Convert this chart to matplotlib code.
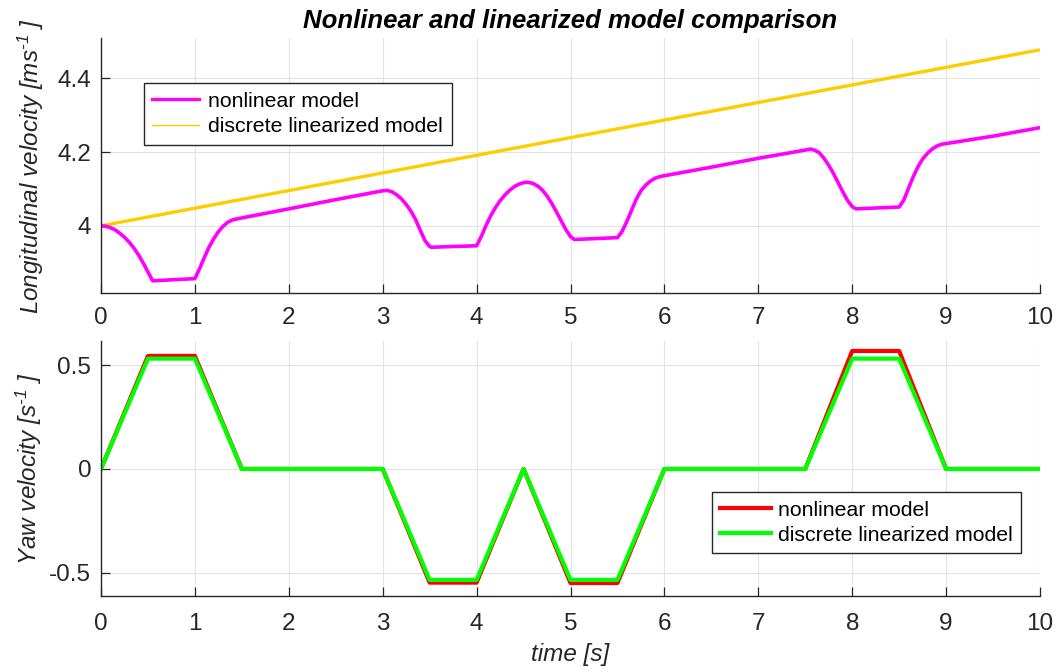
import matplotlib
matplotlib.use("Agg")
import matplotlib.pyplot as plt
from matplotlib.lines import Line2D

plt.rcParams['font.family'] = ['Liberation Sans', 'DejaVu Sans']
plt.rcParams['mathtext.fontset'] = 'custom'
plt.rcParams['mathtext.rm'] = 'Liberation Sans:italic'
plt.rcParams['mathtext.it'] = 'Liberation Sans:italic'
plt.rcParams['mathtext.default'] = 'it'

# ---------------- data ----------------
# Longitudinal velocity, nonlinear model
t_vx = [0.0, 0.05, 0.1, 0.15, 0.2, 0.25, 0.3, 0.35, 0.4, 0.45, 0.5, 0.55,
        1.0, 1.05, 1.1, 1.15, 1.2, 1.25, 1.3, 1.35, 1.4, 1.45,
        2.0, 2.5, 3.0, 3.05, 3.1, 3.15, 3.2, 3.25, 3.3, 3.35, 3.4, 3.45, 3.5, 3.52,
        4.0, 4.05, 4.1, 4.15, 4.2, 4.25, 4.3, 4.35, 4.4, 4.45, 4.5, 4.55, 4.6, 4.65,
        4.7, 4.75, 4.8, 4.85, 4.9, 4.95, 5.0, 5.04,
        5.5, 5.55, 5.6, 5.65, 5.7, 5.75, 5.8, 5.85, 5.9, 5.96,
        6.5, 7.0, 7.56, 7.6, 7.65, 7.7, 7.75, 7.8, 7.85, 7.9, 7.95, 8.0, 8.04,
        8.5, 8.55, 8.6, 8.65, 8.7, 8.75, 8.8, 8.85, 8.9, 8.95, 9.5, 10.0]
vx_nonlinear = [4.000, 3.999, 3.995, 3.989, 3.980, 3.969, 3.956, 3.940, 3.921, 3.899, 3.875, 3.851,
                3.857, 3.884, 3.914, 3.942, 3.965, 3.984, 3.999, 4.010, 4.016, 4.019,
                4.046, 4.071, 4.095, 4.096, 4.092, 4.084, 4.073, 4.058, 4.040, 4.017, 3.988,
                3.960, 3.944, 3.942,
                3.946, 3.971, 4.001, 4.027, 4.049, 4.068, 4.083, 4.096, 4.106, 4.113, 4.117,
                4.118, 4.115, 4.108, 4.097, 4.081, 4.061, 4.038, 4.014, 3.990, 3.971, 3.963,
                3.968, 3.985, 4.012, 4.042, 4.072, 4.095, 4.110, 4.121, 4.129, 4.134,
                4.159, 4.183, 4.208, 4.205, 4.198, 4.183, 4.164, 4.142, 4.117, 4.092, 4.069,
                4.052, 4.046,
                4.051, 4.070, 4.102, 4.133, 4.160, 4.181, 4.196, 4.208, 4.216, 4.221, 4.243, 4.266]
# Longitudinal velocity, discrete linearized model
t_vx_lin = [0.0, 5.0, 10.0]
vx_linear = [4.000, 4.239, 4.477]

# Yaw velocity
t_r = [0.0, 0.5, 1.0, 1.5, 3.0, 3.5, 4.0, 4.5, 5.0, 5.5, 6.0, 7.5, 8.0, 8.5, 9.0, 10.0]
r_nonlinear = [0.0, 0.545, 0.545, 0.0, 0.0, -0.548, -0.548, 0.0, -0.550, -0.550, 0.0, 0.0,
               0.569, 0.569, 0.0, 0.0]
r_linear = [0.0, 0.532, 0.532, 0.0, 0.0, -0.535, -0.535, 0.0, -0.535, -0.535, 0.0, 0.0,
            0.532, 0.532, 0.0, 0.0]

x_ticks = [0, 1, 2, 3, 4, 5, 6, 7, 8, 9, 10]
vx_ticks = [4.0, 4.2, 4.4]
vx_ticklabels = ['4', '4.2', '4.4']
r_ticks = [-0.5, 0.0, 0.5]
r_ticklabels = ['-0.5', '0', '0.5']
legend_labels = ['nonlinear model', 'discrete linearized model']

# ---------------- figure ----------------
W, H = 1057, 671
fig = plt.figure(figsize=(W / 100, H / 100), dpi=100)

def frac(x0, y0, x1, y1):
    return [x0 / W, 1 - y1 / H, (x1 - x0) / W, (y1 - y0) / H]

ax1 = fig.add_axes(frac(101, 38, 1040, 293))
ax2 = fig.add_axes(frac(101, 341, 1040, 596))

dark = '#262626'
for ax, xpad in ((ax1, 10.0), (ax2, 12.0)):
    ax.set_xlim(0, 10)
    ax.set_xticks(x_ticks)
    ax.grid(True, color='#e3e3e3', linewidth=0.8)
    ax.set_axisbelow(True)
    for s in ('top', 'right'):
        ax.spines[s].set_visible(False)
    for s in ('left', 'bottom'):
        ax.spines[s].set_color(dark)
        ax.spines[s].set_linewidth(1.0)
    ax.tick_params(axis='both', direction='in', length=6.5, width=0.9, color=dark,
                   labelsize=17.5, labelcolor=dark)
    ax.tick_params(axis='x', pad=xpad)
    ax.tick_params(axis='y', pad=7)

# top axes
ax1.plot(t_vx_lin, vx_linear, color='#FFCC00', linewidth=2.4, solid_capstyle='butt')
ax1.plot(t_vx, vx_nonlinear, color='#FF00FF', linewidth=2.6)
ax1.set_ylim(3.818, 4.509)
ax1.set_yticks(vx_ticks)
ax1.set_yticklabels(vx_ticklabels)
ax1.set_ylabel(r'Longitudinal velocity [ms$^{\text{-1}}$ ]', fontsize=17.5, style='italic',
               color=dark, labelpad=8)
ax1.set_title('Nonlinear and linearized model comparison', fontsize=18.5,
              fontweight='bold', style='italic', pad=7)

h1 = [Line2D([], [], color='#FF00FF', linewidth=2.4),
      Line2D([], [], color='#F2D000', linewidth=1.0)]
fs_leg = 15.3
leg1 = ax1.legend(h1, legend_labels, loc='upper left',
                  bbox_to_anchor=(143.6 / W, 1 - 83.3 / H), bbox_transform=fig.transFigure,
                  fontsize=fs_leg, frameon=True, fancybox=False, framealpha=1,
                  edgecolor=dark, borderpad=0.4, labelspacing=0.3, handlelength=2.2,
                  handletextpad=0.45, borderaxespad=0)
leg1.get_frame().set_linewidth(1.0)

# bottom axes
ax2.plot(t_r, r_nonlinear, color='#FF0000', linewidth=3.0)
ax2.plot(t_r, r_linear, color='#00FF00', linewidth=3.0)
ax2.set_ylim(-0.6125, 0.617)
ax2.set_yticks(r_ticks)
ax2.set_yticklabels(r_ticklabels)
ax2.set_ylabel(r'Yaw velocity [s$^{\text{-1}}$ ]', fontsize=17.5, style='italic', color=dark,
               labelpad=4)
ax2.set_xlabel('time [s]', fontsize=17.5, style='italic', color=dark, labelpad=6)

h2 = [Line2D([], [], color='#FF0000', linewidth=3.0),
      Line2D([], [], color='#00FF00', linewidth=3.0)]
leg2 = ax2.legend(h2, legend_labels, loc='upper left',
                  bbox_to_anchor=(711.8 / W, 1 - 492 / H), bbox_transform=fig.transFigure,
                  fontsize=fs_leg, frameon=True, fancybox=False, framealpha=1,
                  edgecolor=dark, borderpad=0.4, labelspacing=0.3, handlelength=2.4,
                  handletextpad=0.3, borderaxespad=0)
leg2.get_frame().set_linewidth(1.0)

fig.savefig('out.png', dpi=100)
